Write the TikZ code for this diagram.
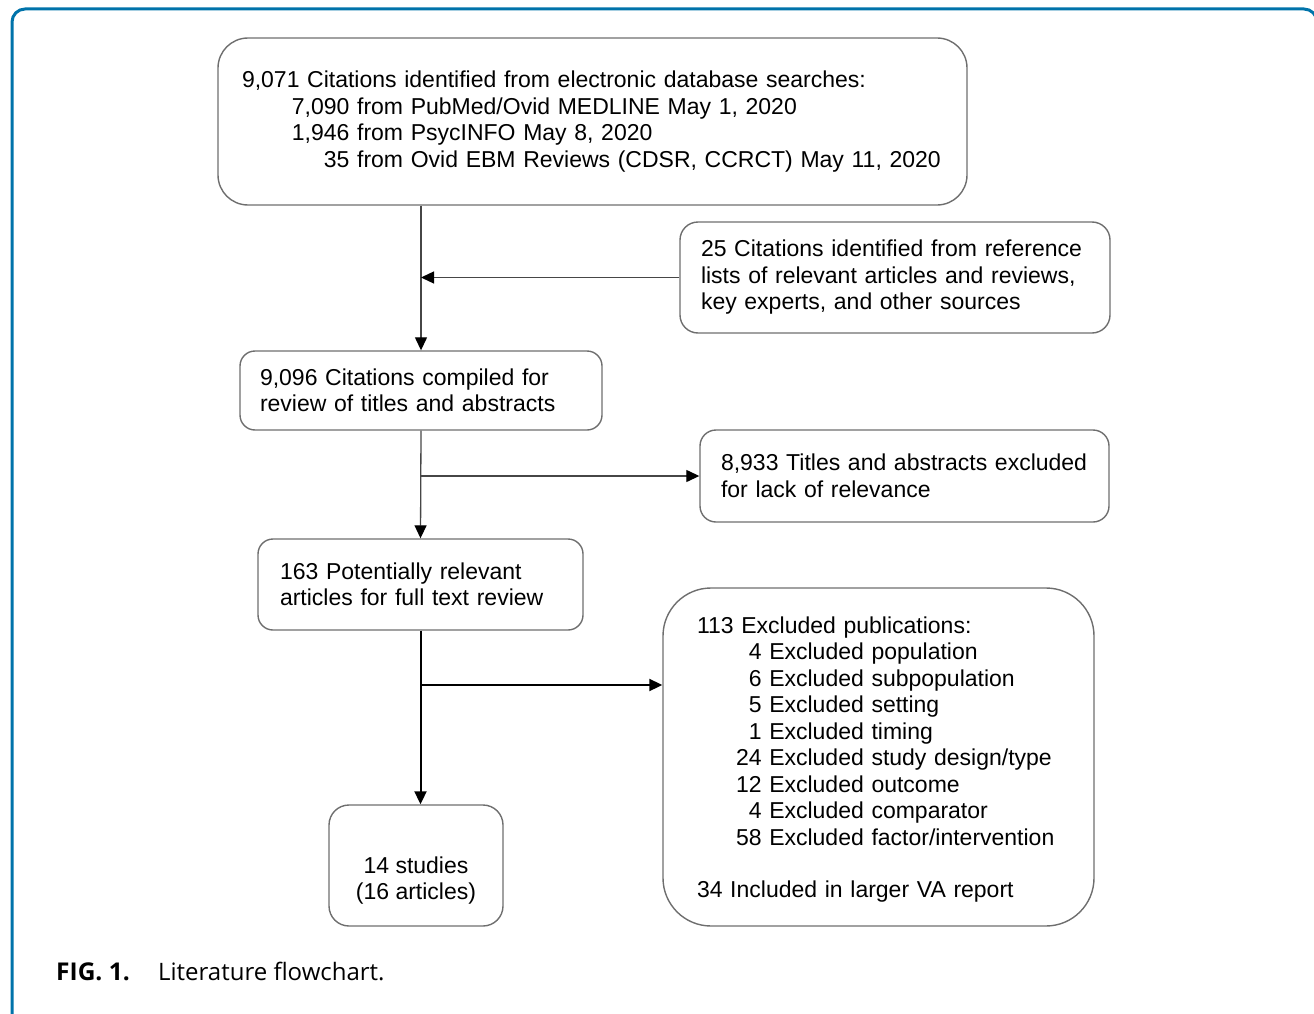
\documentclass[tikz,border=0pt]{standalone}
\usepackage{fontspec}
\setmainfont{Liberation Sans}
\newfontfamily\capfont{Open Sans}
\usetikzlibrary{positioning, arrows.meta}
\definecolor{framecol}{RGB}{0,115,170}
\definecolor{boxline}{RGB}{110,110,110}
\definecolor{flowline}{RGB}{70,70,70}

\newcommand{\srcnum}[1]{\hspace*{50pt}\makebox[57.5pt][r]{#1}}
\newcommand{\excnum}[1]{\hspace*{39pt}\makebox[25.6pt][r]{#1}}

\begin{document}
\begin{tikzpicture}[x=1pt, y=-1pt,
    font=\fontsize{23}{26.5}\selectfont,
    box/.style={draw=boxline, line width=1.4pt, rounded corners=#1, align=left, inner ysep=0pt},
    box/.default=15pt,
    flow/.style={draw=flowline, line width=1.3pt},
    flowarrow/.style={-{Triangle[length=13pt, width=12pt, color=black]}}]
    % Page and frame
    \useasboundingbox (0,0) rectangle (1314,1014);
    \draw[framecol, line width=3pt, rounded corners=13pt] (12,1040) -- (12,9) -- (1317,9) -- (1317,1040);

    % Define boxes
    \node[box=30pt, text width=701pt, inner xsep=24pt, minimum height=167pt] (srch) at (592.5,121.5)
        {9,071 Citations identified from electronic database searches:\\
         \srcnum{7,090} from PubMed/Ovid MEDLINE May 1, 2020\\
         \srcnum{1,946} from PsycINFO May 8, 2020\\
         \srcnum{35} from Ovid EBM Reviews (CDSR, CCRCT) May 11, 2020};
    \node[box=18pt, text width=388pt, inner xsep=21pt, minimum height=111pt] (refs) at (895,277.5)
        {25 Citations identified from reference\\
         lists of relevant articles and reviews,\\
         key experts, and other sources};
    \node[box=15pt, text width=322pt, inner xsep=20pt, minimum height=79pt] (comp) at (421,390.5)
        {9,096 Citations compiled for\\
         review of titles and abstracts};
    \node[box=16pt, text width=367pt, inner xsep=21pt, minimum height=92pt] (titl) at (904.5,476)
        {8,933 Titles and abstracts excluded\\
         for lack of relevance};
    \node[box=15pt, text width=281pt, inner xsep=22pt, minimum height=91pt] (pot) at (420.5,584.5)
        {163 Potentially relevant\\
         articles for full text review};
    \node[box=48pt, text width=363pt, inner xsep=34pt, minimum height=338pt] (expub) at (878.5,757)
        {\rule{0pt}{22pt}113 Excluded publications:\\
         \excnum{4} Excluded population\\
         \excnum{6} Excluded subpopulation\\
         \excnum{5} Excluded setting\\
         \excnum{1} Excluded timing\\
         \excnum{24} Excluded study design/type\\
         \excnum{12} Excluded outcome\\
         \excnum{4} Excluded comparator\\
         \excnum{58} Excluded factor/intervention\\[26pt]
         34 Included in larger VA report};
    \node[box=20pt, align=center, minimum width=174pt, minimum height=121pt, inner xsep=0pt] (stud) at (416,865.5)
        {\rule{0pt}{47pt}14 studies\\(16 articles)};

    % Define arrows
    \draw[flow, flowarrow] (srch.south -| comp.north) -- (comp.north);
    \draw[flow, flowarrow] (refs.west) -- (refs.west -| comp.north);
    \draw[flow, flowarrow] (comp.south) -- (pot.north);
    \draw[flow, flowarrow] (titl.west -| comp.south) -- (titl.west);
    \draw[flow, flowarrow, draw=black, line width=2pt] (pot.south) -- (pot.south |- stud.north);
    \draw[flow, flowarrow, draw=black, line width=2pt] ([yshift=72pt]expub.west -| pot.south) -- ([yshift=72pt]expub.west);

    % Caption
    \node[anchor=base west, inner sep=0pt, font=\capfont\fontsize{24.5}{28}\selectfont\bfseries] (figno) at (56,980) {FIG. 1.};
    \node[anchor=base west, inner sep=0pt, font=\capfont\fontsize{24}{28}\selectfont] (figcap) at (158,980) {Literature flowchart.};
\end{tikzpicture}
\end{document}
